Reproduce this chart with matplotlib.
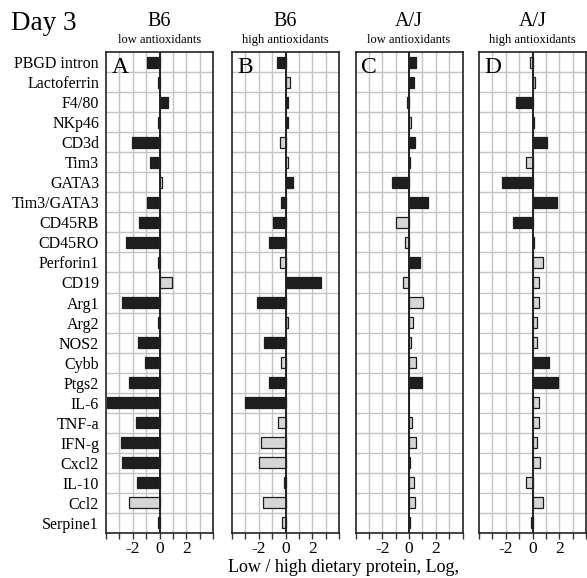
import numpy as np
import matplotlib
matplotlib.use("Agg")
import matplotlib.pyplot as plt

plt.rcParams.update({
    "font.family": "serif",
    "font.serif": ["Liberation Serif", "DejaVu Serif"],
    "axes.unicode_minus": False,
})

genes = ["PBGD intron", "Lactoferrin", "F4/80", "NKp46", "CD3d", "Tim3", "GATA3",
         "Tim3/GATA3", "CD45RB", "CD45RO", "Perforin1", "CD19", "Arg1", "Arg2",
         "NOS2", "Cybb", "Ptgs2", "IL-6", "TNF-a", "IFN-g", "Cxcl2", "IL-10",
         "Ccl2", "Serpine1"]

vals_a = [-0.9, -0.12, 0.65, -0.12, -2.05, -0.68, 0.2, -0.9, -1.5, -2.5, -0.12, 0.9,
          -2.78, -0.1, -1.6, -1.1, -2.3, -3.9, -1.78, -2.9, -2.78, -1.7, -2.3, -0.12]
vals_b = [-0.6, 0.3, 0.15, 0.15, -0.4, 0.15, 0.58, -0.35, -0.9, -1.25, -0.38, 2.63,
          -2.1, 0.18, -1.58, -0.3, -1.2, -3.0, -0.58, -1.85, -2.0, -0.1, -1.68, -0.28]
vals_c = [0.55, 0.35, -0.15, 0.15, 0.42, 0.1, -1.3, 1.4, -0.98, -0.3, 0.82, -0.45,
          1.05, 0.3, 0.15, 0.55, 1.0, np.nan, 0.22, 0.55, 0.1, 0.35, 0.45, 0.08]
vals_d = [-0.15, 0.15, -1.2, 0.08, 1.05, -0.52, -2.3, 1.8, -1.48, 0.1, 0.8, 0.52,
          0.5, 0.3, 0.35, 1.2, 1.88, 0.5, 0.5, 0.3, 0.55, -0.48, 0.82, -0.1]

# k = significant (black), g = not significant (grey), w = open bar
shade_a = "kkkkkkwkkkkgkkkkkkkkkkgk"
shade_b = "kgkkgwkkkkgkkgkgkkgggkgg"
shade_c = "kkggkgkkggkgggggkkggkggk"
shade_d = "ggkkkgkkkkgggggkkggggggk"

strains = ["B6", "B6", "A/J", "A/J"]
diets = ["low antioxidants", "high antioxidants", "low antioxidants", "high antioxidants"]
letters = ["A", "B", "C", "D"]

FILL = {"k": "#1e1e1e", "g": "#d6d6d6", "w": "#f6f6f6"}
W, H = 587, 578

fig = plt.figure(figsize=(W / 100, H / 100), dpi=100)
fig.patch.set_facecolor("white")

lefts = [106, 232, 355.5, 479]
top, bottom, width = 52, 533, 107
y = np.arange(len(genes))

panels = zip(lefts, [vals_a, vals_b, vals_c, vals_d],
             [shade_a, shade_b, shade_c, shade_d], strains, diets, letters)
for i, (lx, vals, shade, strain, diet, letter) in enumerate(panels):
    ax = fig.add_axes([lx / W, 1 - bottom / H, width / W, (bottom - top) / H])
    ax.set_xlim(-4, 4)
    ax.set_ylim(len(genes) - 0.5, -0.5)

    # cell grid
    for gx in range(-3, 4):
        ax.axvline(gx, color="#c4c4c4", lw=1.0, zorder=0)
    for gy in np.arange(0.5, len(genes) - 0.5, 1):
        ax.axhline(gy, color="#c4c4c4", lw=1.0, zorder=0)

    v = np.array(vals, dtype=float)
    ok = ~np.isnan(v)
    ax.barh(y[ok], v[ok], height=0.55,
            color=[FILL[s] for s, m in zip(shade, ok) if m],
            edgecolor="#1e1e1e", linewidth=0.9, zorder=3)
    ax.axvline(0, color="#222222", lw=1.4, zorder=4)

    for sp in ax.spines.values():
        sp.set_color("#222222")
        sp.set_linewidth(1.2)

    ax.set_xticks(np.arange(-4, 5, 1), minor=True)
    ax.set_xticks([-2, 0, 2])
    ax.set_xticklabels(["-2", "0", "2"], fontsize=12.5)
    ax.tick_params(axis="x", which="both", direction="out", length=4.5,
                   width=1.0, color="#333333", pad=1.5)
    ax.tick_params(axis="y", length=0)
    if i == 0:
        ax.set_yticks(y)
        ax.set_yticklabels(genes, fontsize=11.5)
        ax.tick_params(axis="y", pad=5)
    else:
        ax.set_yticks([])

    ax.text(0.05, 0.99, letter, transform=ax.transAxes, ha="left", va="top",
            fontsize=17, zorder=6)

    cx = (lx + width / 2) / W
    fig.text(cx, 1 - 22 / H, strain, ha="center", va="center", fontsize=14.5)
    fig.text(cx, 1 - 40 / H, diet, ha="center", va="center", fontsize=9)

fig.text(11 / W, 1 - 23 / H, "Day 3", ha="left", va="center", fontsize=19.5)
fig.text(343 / W, 1 - 568 / H, "Low / high dietary protein, Log,",
         ha="center", va="center", fontsize=13)

fig.savefig("out.png", dpi=100, facecolor="white")
